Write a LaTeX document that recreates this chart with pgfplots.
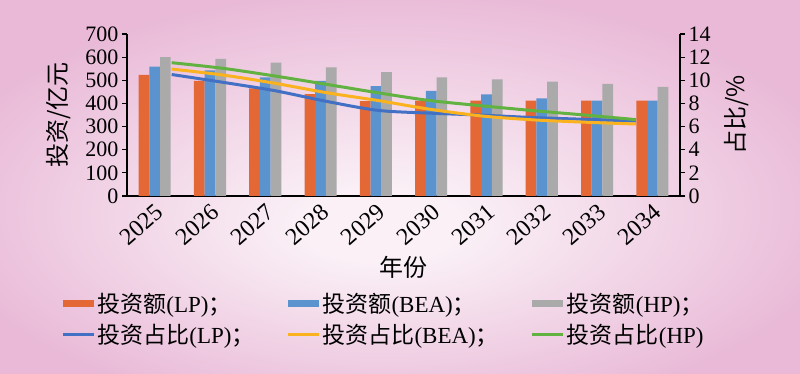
\documentclass[border=0pt]{standalone}
\usepackage{fontspec}
\setmainfont{Liberation Serif}
\newfontfamily\cjk{Noto Sans CJK SC}
\usepackage{pgfplots}
\pgfplotsset{compat=1.18}
\definecolor{bgout}{RGB}{233,185,215}
\definecolor{bgin}{RGB}{250,240,246}
\definecolor{cLPbar}{RGB}{228,103,54}
\definecolor{cBEAbar}{RGB}{91,147,207}
\definecolor{cHPbar}{RGB}{170,170,170}
\definecolor{cLPline}{RGB}{66,112,196}
\definecolor{cBEAline}{RGB}{250,178,30}
\definecolor{cHPline}{RGB}{97,178,64}
\pgfdeclareradialshading{bgshade}{\pgfpoint{-1.3bp}{-5.7bp}}{color(0bp)=(bgin); color(5bp)=(bgin); color(29bp)=(bgout); color(50bp)=(bgout)}
\pgfplotsset{
  barleg/.style={legend image code/.code={\fill[##1] (0pt,-3.5pt) rectangle (31pt,3.5pt);}},
  lineleg/.style={legend image code/.code={\draw[##1] (0pt,0pt) -- (31pt,0pt);}},
  common/.style={
    at={(127pt,178pt)}, anchor=south west, scale only axis,
    width=553pt, height=162pt,
    xmin=-0.5, xmax=9.5,
    axis line style={black, line width=1.2pt},
    tick align=outside, major tick length=5pt,
    y tick style={black, line width=1.2pt},
    ticklabel style={font=\fontsize{22}{22}\selectfont},
    /pgf/number format/assume math mode=true,
    label style={font=\fontsize{24}{24}\selectfont},
  },
}
\begin{document}
\begin{tikzpicture}
\useasboundingbox (0,0) rectangle (800pt,374pt);
\shade[shading=bgshade] (0,0) rectangle (800pt,374pt);
\begin{axis}[common,
  ymin=0, ymax=700,
  axis lines*=left,
  ytick={0,100,200,300,400,500,600,700},
  xtick={0,1,2,3,4,5,6,7,8,9},
  xticklabels={2025,2026,2027,2028,2029,2030,2031,2032,2033,2034},
  x tick style={draw=none},
  xticklabel style={rotate=41, anchor=north east, inner sep=1pt, font=\fontsize{24}{24}\selectfont},
  ybar=0pt, bar width=0.1935,
  ylabel={\cjk 投资/亿元}, xlabel={\cjk 年份},
  ylabel style={at={(axis description cs:-0.124,0.5)}, anchor=center},
  xlabel style={at={(axis description cs:0.5,-0.44)}, anchor=center},
]
\addplot[fill=cLPbar, draw=none] coordinates {(0,523) (1,497) (2,465) (3,440) (4,410) (5,412) (6,412) (7,412) (8,412) (9,412)};
\addplot[fill=cBEAbar, draw=none] coordinates {(0,559) (1,543) (2,513) (3,497) (4,475) (5,454) (6,439) (7,422) (8,412) (9,412)};
\addplot[fill=cHPbar, draw=none] coordinates {(0,600) (1,592) (2,576) (3,556) (4,535) (5,513) (6,504) (7,494) (8,484) (9,471)};
\end{axis}
\begin{axis}[common,
  ymin=0, ymax=14,
  axis y line*=right, axis x line=none,
  ytick={0,2,4,6,8,10,12,14},
  ylabel={\cjk 占比/\%},
  ylabel style={at={(axis description cs:1.103,0.5)}, anchor=center, rotate=0},
  legend columns=3,
  legend cell align=left,
  legend style={draw=none, fill=none, at={(-0.119,-0.585)}, anchor=north west,
    font=\fontsize{23}{23}\selectfont, inner sep=0pt, row sep=6pt,
    /tikz/every even column/.append style={column sep=30pt}},
]
\addlegendimage{barleg, fill=cLPbar, draw=none}
\addlegendentry{{\cjk 投资额}(LP){\cjk ；}}
\addlegendimage{barleg, fill=cBEAbar, draw=none}
\addlegendentry{{\cjk 投资额}(BEA){\cjk ；}}
\addlegendimage{barleg, fill=cHPbar, draw=none}
\addlegendentry{{\cjk 投资额}(HP){\cjk ；}}
\addplot[cLPline, line width=3pt, smooth, lineleg] coordinates {(0.308,10.50) (1.241,9.82) (2.174,9.10) (3.106,8.18) (4.039,7.40) (4.972,7.16) (5.905,6.99) (6.838,6.78) (7.770,6.63) (8.703,6.48)};
\addlegendentry{{\cjk 投资占比}(LP){\cjk ；}}
\addplot[cBEAline, line width=3pt, smooth, lineleg] coordinates {(0.308,10.97) (1.241,10.45) (2.174,9.74) (3.106,8.93) (4.039,8.25) (4.972,7.50) (5.905,6.92) (6.838,6.58) (7.770,6.38) (8.703,6.22)};
\addlegendentry{{\cjk 投资占比}(BEA){\cjk ；}}
\addplot[cHPline, line width=3pt, smooth, lineleg] coordinates {(0.308,11.52) (1.241,11.03) (2.174,10.37) (3.106,9.65) (4.039,8.92) (4.972,8.25) (5.905,7.80) (6.838,7.38) (7.770,7.00) (8.703,6.60)};
\addlegendentry{{\cjk 投资占比}(HP)}
\end{axis}
\end{tikzpicture}
\end{document}
